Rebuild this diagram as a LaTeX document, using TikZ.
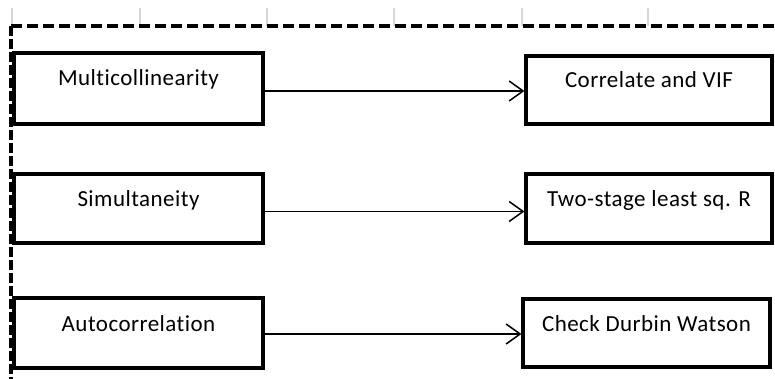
\documentclass[tikz,border=0pt]{standalone}
\usepackage{fontspec}
\setmainfont{Carlito}[LetterSpace=2,Ligatures={NoCommon}]
\usetikzlibrary{arrows.meta}
\begin{document}
\begin{tikzpicture}[x=1pt,y=-1pt,
  stepbox/.style={draw=black, line width=3.2pt, fill=white, inner xsep=0pt, inner ysep=0pt,
    font=\fontsize{23}{27}\selectfont, text height=33pt},
  link/.style={draw=black, line width=1.5pt, -{Straight Barb[length=14pt,width=20pt,line width=1.5pt]}},
  tick/.style={draw=black!16, line width=1.5pt},
  frameline/.style={draw=black, line width=3.2pt}
]
\useasboundingbox (0,0) rectangle (775,379);

% ruler ticks along the top
\foreach \tx in {12,140,267,394,522,648}
  \draw[tick] (\tx,8) -- (\tx,26);

% dashed frame (top and left sides)
\draw[frameline, dash pattern=on 11pt off 5pt] (11,26) -- (776,26);
\draw[frameline, dash pattern=on 10pt off 3pt] (11,26) -- (11,380);

% problems (left column)
\node[stepbox, minimum width=249pt, text depth=38pt] (l1) at (138.5,88.5) {Multicollinearity};
\node[stepbox, minimum width=249pt, text depth=36pt] (l2) at (138.5,208.5) {Simultaneity};
\node[stepbox, minimum width=249pt, text depth=37pt] (l3) at (138.5,333) {Autocorrelation};

% remedies (right column)
\node[stepbox, minimum width=246pt, text height=32pt, text depth=36pt] (r1) at (649,90) {Correlate and VIF};
\node[stepbox, minimum width=246pt, text depth=36pt] (r2) at (649,208.5) {Two-stage least sq. R};
\node[stepbox, minimum width=247pt, text height=32pt, text depth=36pt] (r3) at (646.5,333) {Check Durbin Watson};

% connectors
\coordinate (a1) at ([yshift=-2.5pt]l1.east);
\coordinate (a2) at ([yshift=-3pt]l2.east);
\coordinate (a3) at ([yshift=-1pt]l3.east);
\draw[link] (a1) -- (a1 -| r1.west);
\draw[link] (a2) -- (a2 -| r2.west);
\draw[link] (a3) -- (a3 -| r3.west);
\end{tikzpicture}
\end{document}
